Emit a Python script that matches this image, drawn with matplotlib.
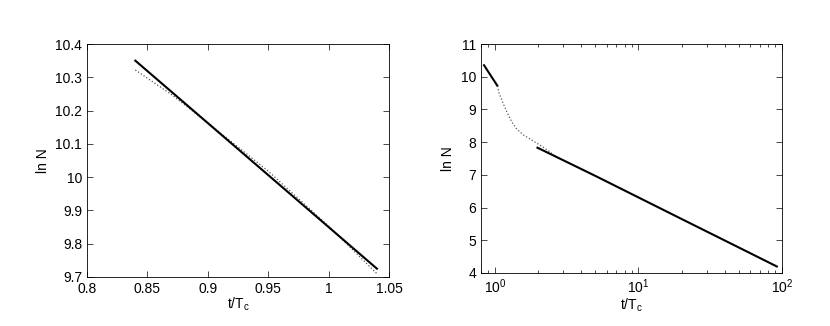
import matplotlib
matplotlib.use("Agg")
import matplotlib.pyplot as plt
from matplotlib.ticker import FuncFormatter, LogLocator
import numpy as np

plt.rcParams['font.family'] = ['Liberation Sans', 'DejaVu Sans']
plt.rcParams['font.size'] = 10
plt.rcParams['mathtext.default'] = 'regular'

# left panel: data (solid) and fit (dotted)
t_early = [0.84, 1.04]
lnN_early = [10.35, 9.725]
t_fit = [0.84, 0.87, 0.90, 0.95, 1.00, 1.04]
lnN_fit = [10.322, 10.248, 10.163, 10.018, 9.853, 9.71]

# right panel: transition (dotted) and late-time power law (solid)
t_mid = [1.04, 1.07, 1.14, 1.21, 1.31, 1.42, 1.58, 1.81, 2.06, 2.30, 2.49]
lnN_mid = [9.72, 9.49, 9.19, 8.93, 8.62, 8.40, 8.22, 8.06, 7.91, 7.77, 7.66]
t_late = [1.98, 5.0, 10.0, 20.0, 50.0, 92.0]
lnN_late = [7.83, 6.97, 6.31, 5.65, 4.78, 4.20]

fig = plt.figure(figsize=(8.3, 3.26), dpi=100)
W, H = 830, 326

def style(ax):
    ax.tick_params(which='both', direction='in', top=True, right=True, length=4, width=0.5)
    ax.tick_params(which='minor', length=2)
    for s in ax.spines.values():
        s.set_linewidth(0.6)

# left
ax1 = fig.add_axes([87 / W, 1 - 277 / H, (389 - 87) / W, (277 - 44) / H])
ax1.plot(t_fit, lnN_fit, ':', color='#555555', lw=0.9)
ax1.plot(t_early, lnN_early, '-', color='black', lw=1.5)
ax1.set_xlim(0.8, 1.05)
ax1.set_ylim(9.7, 10.4)
ax1.set_xticks(np.arange(0.8, 1.051, 0.05))
ax1.set_yticks(np.arange(9.7, 10.401, 0.1))
ax1.xaxis.set_major_formatter(FuncFormatter(lambda v, p: '%g' % round(v, 2)))
ax1.yaxis.set_major_formatter(FuncFormatter(lambda v, p: '%g' % round(v, 1)))
ax1.set_xlabel('t/T$_c$', labelpad=0)
ax1.set_ylabel('ln N')
style(ax1)

# right
ax2 = fig.add_axes([481 / W, 1 - 273 / H, (782 - 481) / W, (273 - 44) / H])
ax2.plot(t_early, lnN_early, '-', color='black', lw=1.5)
ax2.plot(t_mid, lnN_mid, ':', color='#555555', lw=0.9)
ax2.plot(t_late, lnN_late, '-', color='black', lw=1.5)
ax2.set_xscale('log')
ax2.set_xlim(0.8, 100)
ax2.set_ylim(4, 11)
ax2.set_yticks(range(4, 12))
ax2.xaxis.set_minor_locator(LogLocator(base=10, subs=np.arange(2, 10)))
ax2.set_xlabel('t/T$_c$', labelpad=0)
ax2.set_ylabel('ln N')
style(ax2)

fig.savefig('out.png', dpi=100)
